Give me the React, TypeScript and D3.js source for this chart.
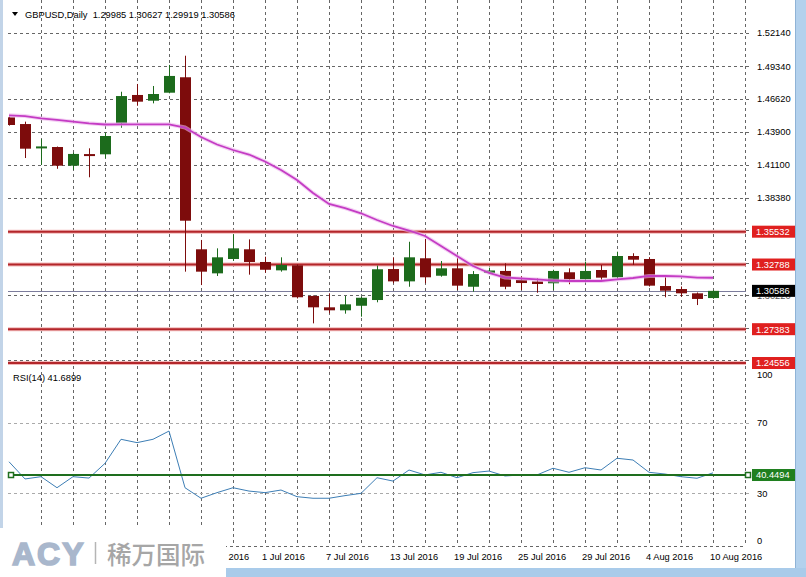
import React, { useRef, useEffect } from 'react';
import * as d3 from 'd3';

// daily bars, 9 Jun 2016 .. 10 Aug 2016
const dates = [
    '9 Jun 2016', '10 Jun 2016', '13 Jun 2016', '14 Jun 2016', '15 Jun 2016', '16 Jun 2016', '17 Jun 2016',
    '20 Jun 2016', '21 Jun 2016', '22 Jun 2016', '23 Jun 2016', '24 Jun 2016', '27 Jun 2016', '28 Jun 2016',
    '29 Jun 2016', '30 Jun 2016', '1 Jul 2016', '4 Jul 2016', '5 Jul 2016', '6 Jul 2016', '7 Jul 2016',
    '8 Jul 2016', '11 Jul 2016', '12 Jul 2016', '13 Jul 2016', '14 Jul 2016', '15 Jul 2016', '18 Jul 2016',
    '19 Jul 2016', '20 Jul 2016', '21 Jul 2016', '22 Jul 2016', '25 Jul 2016', '26 Jul 2016', '27 Jul 2016',
    '28 Jul 2016', '29 Jul 2016', '1 Aug 2016', '2 Aug 2016', '3 Aug 2016', '4 Aug 2016', '5 Aug 2016',
    '8 Aug 2016', '9 Aug 2016', '10 Aug 2016',
];
const open = [
    1.4509, 1.4453, 1.4262, 1.4261, 1.4105, 1.4202, 1.4200, 1.4459, 1.4696, 1.4648, 1.4715, 1.4844,
    1.3406, 1.3205, 1.3325, 1.3406, 1.3300, 1.3230, 1.3272, 1.3016, 1.2921, 1.2896, 1.2934, 1.2982,
    1.3241, 1.3138, 1.3331, 1.3185, 1.3247, 1.3093, 1.3208, 1.3225, 1.3149, 1.3137, 1.3122, 1.3214,
    1.3155, 1.3233, 1.3172, 1.3350, 1.3325, 1.3099, 1.3074, 1.3038, 1.29985,
];
const high = [
    1.4515, 1.4473, 1.4328, 1.4265, 1.4213, 1.4250, 1.4381, 1.4723, 1.4788, 1.4771, 1.4947, 1.5024,
    1.3484, 1.3414, 1.3531, 1.3489, 1.3344, 1.3339, 1.3280, 1.3020, 1.3038, 1.3016, 1.3010, 1.3270,
    1.3339, 1.3469, 1.3492, 1.3308, 1.3336, 1.3224, 1.3252, 1.3289, 1.3183, 1.3164, 1.3235, 1.3247,
    1.3303, 1.3275, 1.3386, 1.3373, 1.3340, 1.3177, 1.3095, 1.3045, 1.30627,
];
const low = [
    1.4440, 1.4169, 1.4111, 1.4079, 1.4069, 1.4008, 1.4167, 1.4422, 1.4606, 1.4626, 1.4710, 1.3219,
    1.3107, 1.3183, 1.3310, 1.3194, 1.3210, 1.3219, 1.2995, 1.2787, 1.2871, 1.2868, 1.2843, 1.2963,
    1.3122, 1.3093, 1.3122, 1.3177, 1.3066, 1.3052, 1.3200, 1.3072, 1.3066, 1.3043, 1.3066, 1.3114,
    1.3150, 1.3149, 1.3165, 1.3275, 1.3095, 1.3005, 1.3010, 1.2940, 1.29919,
];
const close = [
    1.4445, 1.4247, 1.4266, 1.4105, 1.4203, 1.4198, 1.4353, 1.4687, 1.4640, 1.4704, 1.4855, 1.3645,
    1.3219, 1.3339, 1.3414, 1.3300, 1.3235, 1.3275, 1.3005, 1.2921, 1.2896, 1.2946, 1.3001, 1.3239,
    1.3138, 1.3339, 1.3172, 1.3247, 1.3102, 1.3199, 1.3229, 1.3093, 1.3124, 1.3116, 1.3225, 1.3155,
    1.3225, 1.3169, 1.3350, 1.3319, 1.3102, 1.3060, 1.3038, 1.2991, 1.30586,
];
const maValues = [
    1.4526, 1.4520, 1.4501, 1.4487, 1.4473, 1.4459, 1.4449, 1.4451, 1.4451, 1.4451, 1.4451, 1.4424,
    1.4345, 1.4282, 1.4236, 1.4198, 1.4140, 1.4069, 1.3985, 1.3877, 1.3785, 1.3751, 1.3707, 1.3651,
    1.3601, 1.3563, 1.3517, 1.3434, 1.3350, 1.3266, 1.3208, 1.3170, 1.3162, 1.3154, 1.3145, 1.3141,
    1.3141, 1.3141, 1.3154, 1.3166, 1.3183, 1.3183, 1.3179, 1.3170, 1.3168,
];
const rsiValues = [
    48.0, 38.2, 39.5, 33.2, 39.5, 38.7, 47.1, 60.8, 58.9, 60.8, 65.5, 33.2,
    27.2, 30.4, 33.2, 31.3, 30.4, 31.9, 28.1, 27.2, 27.2, 28.7, 30.0, 38.9,
    37.0, 43.3, 40.5, 42.0, 38.9, 41.8, 42.7, 39.9, 40.5, 40.5, 44.3, 42.0,
    44.6, 43.3, 50.0, 49.0, 42.0, 41.0, 39.5, 38.6, 41.69,
];

const priceTicks = [1.5214, 1.4934, 1.4662, 1.439, 1.411, 1.3838, 1.3566, 1.3294, 1.3022, 1.275, 1.2478];
const priceTickLabels = ['1.52140', '1.49340', '1.46620', '1.43900', '1.41100', '1.38380', '1.30220'];
const levels = [1.35532, 1.32788, 1.27383, 1.24556];
const lastPrice = 1.30586;
const rsiLevels = [70, 30];
const rsiAxisTicks = [100, 70, 30, 0];
const rsiMarker = 40.4494;
// earlier labels (9, 15, 21 Jun) sit under the logo
const dateLabelIdx = [12, 16, 20, 24, 28, 32, 36, 40, 44];

const W = 806;
const H = 577;

const App = () => {
    const svgRef = useRef<SVGSVGElement>(null);

    useEffect(() => {
        if (!svgRef.current) return;
        const svg = d3.select(svgRef.current)
            .attr('width', W)
            .attr('height', H)
            .attr('viewBox', `0 0 ${W} ${H}`);
        svg.selectAll('*').remove();

        const font = "'Liberation Sans', Arial, sans-serif";
        const left = 8;
        const right = 746;
        const mainBottom = 368;
        const rsiBottom = 546;

        const x = d3.scaleLinear().domain([0, 44]).range([9, 713]);
        const y = d3.scaleLinear().domain([1.5214, 1.24556]).range([33, 363]);
        const yr = d3.scaleLinear().domain([0, 100]).range([546, 370.5]);
        const px = (v: number) => Math.round(v) + 0.5;

        svg.append('rect').attr('width', W).attr('height', H).attr('fill', '#fff');

        const defs = svg.append('defs');
        defs.append('clipPath').attr('id', 'clipMain')
            .append('rect').attr('x', left).attr('y', 0).attr('width', right - left).attr('height', mainBottom);
        defs.append('clipPath').attr('id', 'clipRsi')
            .append('rect').attr('x', left).attr('y', mainBottom).attr('width', right - left).attr('height', rsiBottom - mainBottom);

        // vertical grid
        svg.append('g').selectAll('line')
            .data(d3.range(2, 47, 2))
            .join('line')
            .attr('x1', d => px(x(d))).attr('x2', d => px(x(d)))
            .attr('y1', 0).attr('y2', rsiBottom)
            .attr('stroke', '#666').attr('stroke-dasharray', '3,3');

        // horizontal price grid
        svg.append('g').selectAll('line')
            .data(priceTicks)
            .join('line')
            .attr('x1', left).attr('x2', 751)
            .attr('y1', d => px(y(d))).attr('y2', d => px(y(d)))
            .attr('stroke', '#666').attr('stroke-dasharray', '3,3');

        // rsi levels
        svg.append('g').selectAll('line')
            .data(rsiLevels)
            .join('line')
            .attr('x1', left).attr('x2', 751)
            .attr('y1', d => px(yr(d))).attr('y2', d => px(yr(d)))
            .attr('stroke', '#aaa').attr('stroke-dasharray', '3,3');

        svg.append('line')
            .attr('x1', left).attr('x2', right)
            .attr('y1', rsiBottom + 0.5).attr('y2', rsiBottom + 0.5)
            .attr('stroke', '#666').attr('stroke-dasharray', '3,3');

        // axis labels
        svg.append('g').selectAll('text')
            .data(priceTickLabels)
            .join('text')
            .attr('x', 757)
            .attr('y', d => y(+d) + 3.3)
            .attr('font-family', font).attr('font-size', 9.3)
            .attr('fill', d => (d === '1.30220' ? '#555' : '#000'))
            .text(d => d);

        svg.append('g').selectAll('text')
            .data(rsiAxisTicks)
            .join('text')
            .attr('x', 757)
            .attr('y', d => Math.min(541, Math.max(375, yr(d))) + 3.3)
            .attr('font-family', font).attr('font-size', 9.3)
            .text(d => d);

        svg.append('g').selectAll('text')
            .data(dateLabelIdx)
            .join('text')
            .attr('x', d => x(d) - 3)
            .attr('y', 560)
            .attr('font-family', font).attr('font-size', 9.3)
            .text(d => dates[d]);

        // current price line
        const main = svg.append('g').attr('clip-path', 'url(#clipMain)');
        main.append('line')
            .attr('x1', left).attr('x2', right)
            .attr('y1', px(y(lastPrice))).attr('y2', px(y(lastPrice)))
            .attr('stroke', '#7c7c9c');

        // support / resistance levels
        levels.forEach(v => {
            main.append('line')
                .attr('x1', left).attr('x2', right)
                .attr('y1', y(v)).attr('y2', y(v))
                .attr('stroke', '#f2b8b8').attr('stroke-width', 4);
            main.append('line')
                .attr('x1', left).attr('x2', right)
                .attr('y1', y(v)).attr('y2', y(v))
                .attr('stroke', '#b3262a').attr('stroke-width', 2);
        });

        // candles
        const bull = '#1c6b1c';
        const bear = '#7d0c0c';
        const candles = main.append('g');
        dates.forEach((_, i) => {
            const col = close[i] >= open[i] ? bull : bear;
            candles.append('line')
                .attr('x1', px(x(i))).attr('x2', px(x(i)))
                .attr('y1', y(high[i])).attr('y2', y(low[i]))
                .attr('stroke', col);
            const top = Math.min(y(open[i]), y(close[i]));
            const h = Math.max(2, Math.abs(y(open[i]) - y(close[i])));
            candles.append('rect')
                .attr('x', Math.round(x(i)) - 5)
                .attr('y', top)
                .attr('width', 11)
                .attr('height', h)
                .attr('fill', col);
        });

        // moving average
        const maLine = d3.line<number>()
            .x((_, i) => x(i))
            .y(d => y(d));
        main.append('path')
            .datum(maValues)
            .attr('fill', 'none')
            .attr('stroke', '#ecb4ec')
            .attr('stroke-width', 4)
            .attr('opacity', 0.6)
            .attr('d', maLine);
        main.append('path')
            .datum(maValues)
            .attr('fill', 'none')
            .attr('stroke', '#c43cc4')
            .attr('stroke-width', 1.8)
            .attr('d', maLine);

        // level labels
        levels.forEach(v => {
            svg.append('rect')
                .attr('x', 752).attr('y', y(v) - 6)
                .attr('width', 43).attr('height', 12)
                .attr('fill', '#e0201f');
            svg.append('text')
                .attr('x', 756).attr('y', y(v) + 3.4)
                .attr('font-family', font).attr('font-size', 9.3)
                .attr('fill', '#fff')
                .text(v.toFixed(5));
        });
        svg.append('rect')
            .attr('x', 752).attr('y', y(lastPrice) - 6)
            .attr('width', 43).attr('height', 12)
            .attr('fill', '#000');
        svg.append('text')
            .attr('x', 756).attr('y', y(lastPrice) + 3.4)
            .attr('font-family', font).attr('font-size', 9.3)
            .attr('fill', '#fff')
            .text(lastPrice.toFixed(5));

        // RSI
        const rsiG = svg.append('g').attr('clip-path', 'url(#clipRsi)');
        const rsiLine = d3.line<number>()
            .x((_, i) => x(i))
            .y(d => yr(d));
        rsiG.append('path')
            .datum(rsiValues)
            .attr('fill', 'none')
            .attr('stroke', '#3d7eb5')
            .attr('stroke-width', 1)
            .attr('d', rsiLine);

        const green = '#1e6e1e';
        svg.append('line')
            .attr('x1', 11).attr('x2', 748)
            .attr('y1', yr(rsiMarker)).attr('y2', yr(rsiMarker))
            .attr('stroke', green).attr('stroke-width', 2);
        [11, 748].forEach(cx => {
            svg.append('rect')
                .attr('x', cx - 2.5).attr('y', yr(rsiMarker) - 2.5)
                .attr('width', 5).attr('height', 5)
                .attr('fill', '#fff').attr('stroke', green).attr('stroke-width', 1.5);
        });
        svg.append('rect')
            .attr('x', 752).attr('y', yr(rsiMarker) - 6)
            .attr('width', 43).attr('height', 12)
            .attr('fill', '#1f7f1f');
        svg.append('text')
            .attr('x', 756).attr('y', yr(rsiMarker) + 3.4)
            .attr('font-family', font).attr('font-size', 9.3)
            .attr('fill', '#fff')
            .text(rsiMarker.toFixed(4));

        // headers
        svg.append('path')
            .attr('d', 'M12,12 L18,12 L15,16 Z')
            .attr('fill', '#000');
        svg.append('text')
            .attr('x', 25).attr('y', 17.5)
            .attr('font-family', font).attr('font-size', 9.3)
            .attr('xml:space', 'preserve')
            .text(`GBPUSD,Daily  ${open[44].toFixed(5)} ${high[44].toFixed(5)} ${low[44].toFixed(5)} ${close[44].toFixed(5)}`);
        svg.append('text')
            .attr('x', 13).attr('y', 380.5)
            .attr('font-family', font).attr('font-size', 9.3)
            .text('RSI(14) 41.6899');

        // window frame
        svg.append('rect').attr('x', 0).attr('y', 0).attr('width', 3).attr('height', H).attr('fill', '#c2d4e8');
        svg.append('rect').attr('x', 795).attr('y', 0).attr('width', 11).attr('height', H).attr('fill', '#b3d1ed');
        svg.append('line').attr('x1', 795.5).attr('x2', 795.5).attr('y1', 0).attr('y2', H).attr('stroke', '#8fb3d6');
        svg.append('rect').attr('x', 0).attr('y', 568).attr('width', W).attr('height', 9).attr('fill', '#a9cbea');

        // logo
        svg.append('rect').attr('x', 0).attr('y', 528).attr('width', 226).attr('height', 49).attr('fill', '#fff');
        svg.append('text')
            .attr('x', 12).attr('y', 565)
            .attr('font-family', font).attr('font-size', 32).attr('font-weight', 900)
            .attr('letter-spacing', 2)
            .attr('fill', '#a9b7cc')
            .attr('stroke', '#a9b7cc').attr('stroke-width', 1.6)
            .text('ACY');
        svg.append('line')
            .attr('x1', 95.5).attr('x2', 95.5).attr('y1', 542).attr('y2', 564)
            .attr('stroke', '#b5b5b5').attr('stroke-width', 1.5);
        svg.append('text')
            .attr('x', 107).attr('y', 564)
            .attr('font-family', "'Noto Sans CJK SC', sans-serif").attr('font-size', 24.5).attr('font-weight', 500)
            .attr('fill', '#a6a6a6')
            .text('稀万国际');
    }, []);

    return <svg ref={svgRef} style={{ position: 'absolute', left: 0, top: 0 }} />;
};

export default App;
